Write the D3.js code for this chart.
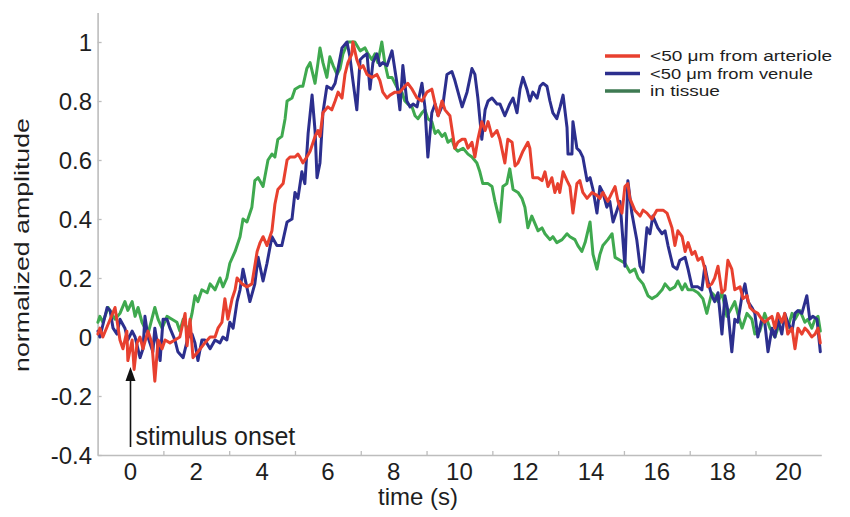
<!DOCTYPE html>
<html>
<head>
<meta charset="utf-8">
<script src="https://cdn.jsdelivr.net/npm/d3@7"></script>
<style>
  html, body { margin: 0; padding: 0; background: #fff; }
  svg { display: block; font-family: "Liberation Sans", Arial, sans-serif; }
</style>
</head>
<body>
<svg id="chart" width="850" height="517"></svg>
<script>
// Normalized response amplitude vs. time, three recording locations: [time (s), amplitude]
const arteriole = [
  [-0.99,0.01],[-0.93,0.03],[-0.84,0.00],[-0.47,0.10],[-0.32,-0.01],[-0.23,-0.04],[-0.11,0.02],[-0.08,-0.08],
  [0.05,-0.01],[0.11,-0.11],[0.20,-0.02],[0.29,0.00],[0.38,-0.04],[0.53,0.02],[0.65,-0.02],[0.74,-0.15],
  [0.84,-0.01],[0.96,-0.04],[1.05,-0.01],[1.20,-0.02],[1.35,-0.01],[1.50,0.00],[1.66,0.08],[1.72,-0.03],
  [1.81,0.06],[1.90,-0.07],[2.05,-0.05],[2.26,-0.02],[2.42,0.00],[2.57,0.00],[2.66,0.03],[2.78,0.05],
  [2.87,0.13],[2.96,0.06],[3.09,0.13],[3.18,0.16],[3.24,0.20],[3.39,0.18],[3.54,0.17],[3.69,0.18],
  [3.85,0.29],[3.94,0.32],[4.03,0.34],[4.15,0.31],[4.30,0.36],[4.39,0.45],[4.48,0.50],[4.64,0.52],
  [4.76,0.60],[4.85,0.61],[5.00,0.61],[5.09,0.62],[5.15,0.61],[5.24,0.59],[5.36,0.61],[5.46,0.63],
  [5.61,0.68],[5.70,0.70],[5.76,0.68],[5.85,0.76],[6.00,0.78],[6.12,0.77],[6.22,0.80],[6.31,0.83],
  [6.43,0.81],[6.52,0.89],[6.61,0.93],[6.73,0.96],[6.76,1.00],[6.88,0.94],[6.98,0.91],[7.07,0.92],
  [7.19,0.89],[7.34,0.88],[7.49,0.89],[7.58,0.87],[7.67,0.83],[7.80,0.81],[7.89,0.82],[8.04,0.83],
  [8.19,0.83],[8.34,0.85],[8.43,0.86],[8.56,0.84],[8.71,0.81],[8.86,0.80],[9.01,0.83],[9.16,0.84],
  [9.26,0.79],[9.35,0.75],[9.47,0.80],[9.56,0.77],[9.71,0.75],[9.86,0.64],[9.95,0.66],[10.08,0.67],
  [10.17,0.67],[10.26,0.64],[10.38,0.66],[10.47,0.61],[10.56,0.67],[10.68,0.73],[10.78,0.70],[10.87,0.73],
  [10.99,0.68],[11.14,0.70],[11.23,0.67],[11.38,0.59],[11.47,0.67],[11.60,0.66],[11.69,0.58],[11.78,0.59],
  [11.93,0.63],[12.08,0.66],[12.14,0.64],[12.23,0.54],[12.39,0.54],[12.51,0.53],[12.60,0.56],[12.69,0.51],
  [12.81,0.54],[12.90,0.49],[12.99,0.52],[13.05,0.49],[13.15,0.56],[13.27,0.53],[13.36,0.51],[13.45,0.42],
  [13.57,0.52],[13.66,0.53],[13.75,0.49],[13.88,0.47],[14.03,0.49],[14.18,0.48],[14.27,0.47],[14.36,0.49],
  [14.51,0.46],[14.64,0.49],[14.73,0.51],[14.82,0.46],[14.94,0.42],[15.03,0.51],[15.12,0.52],[15.18,0.47],
  [15.33,0.43],[15.49,0.41],[15.58,0.43],[15.70,0.42],[15.85,0.40],[16.00,0.43],[16.19,0.43],[16.31,0.42],
  [16.46,0.37],[16.55,0.31],[16.64,0.36],[16.77,0.34],[16.86,0.29],[16.95,0.32],[17.07,0.28],[17.16,0.29],
  [17.25,0.26],[17.37,0.27],[17.46,0.23],[17.55,0.17],[17.67,0.18],[17.76,0.20],[17.86,0.24],[17.98,0.15],
  [18.07,0.16],[18.16,0.26],[18.28,0.23],[18.37,0.16],[18.53,0.17],[18.62,0.13],[18.74,0.14],[18.83,0.10],
  [18.92,0.09],[19.07,0.08],[19.19,0.06],[19.28,0.05],[19.38,0.06],[19.50,0.07],[19.59,0.03],[19.68,0.08],
  [19.80,0.05],[19.89,0.08],[19.98,0.01],[20.11,0.03],[20.20,-0.04],[20.29,0.03],[20.41,0.01],[20.50,0.03],
  [20.59,0.02],[20.71,0.00],[20.81,0.01],[20.90,0.03],[20.97,-0.02]
];

const venule = [
  [-0.99,0.02],[-0.93,0.00],[-0.71,0.10],[-0.62,0.09],[-0.53,0.03],[-0.41,0.01],[-0.32,0.06],[-0.17,0.03],
  [-0.08,-0.01],[0.05,0.02],[0.14,0.00],[0.29,-0.07],[0.38,-0.04],[0.44,0.07],[0.53,0.00],[0.68,-0.05],
  [0.74,0.03],[0.90,-0.08],[0.99,0.06],[1.11,0.06],[1.20,0.03],[1.35,-0.01],[1.44,-0.05],[1.60,-0.07],
  [1.75,0.00],[1.87,0.01],[1.96,-0.02],[2.05,-0.08],[2.17,-0.01],[2.26,-0.01],[2.42,-0.04],[2.57,-0.01],
  [2.72,-0.02],[2.81,0.00],[2.93,-0.01],[3.02,0.05],[3.12,0.03],[3.24,0.12],[3.33,0.16],[3.42,0.23],
  [3.63,0.12],[3.78,0.18],[3.88,0.27],[4.03,0.19],[4.15,0.25],[4.30,0.34],[4.45,0.31],[4.60,0.31],
  [4.76,0.39],[4.91,0.40],[5.00,0.49],[5.09,0.47],[5.21,0.56],[5.30,0.52],[5.40,0.69],[5.52,0.82],
  [5.61,0.70],[5.67,0.54],[5.76,0.59],[5.85,0.76],[5.97,0.85],[6.12,0.84],[6.22,0.86],[6.31,0.91],
  [6.43,0.98],[6.58,1.00],[6.67,0.95],[6.76,0.87],[6.88,0.77],[6.98,0.94],[7.07,0.95],[7.19,0.96],
  [7.28,0.84],[7.37,0.93],[7.49,0.96],[7.58,0.92],[7.67,0.93],[7.80,0.92],[7.95,0.97],[8.10,0.86],
  [8.19,0.77],[8.28,0.92],[8.40,0.80],[8.50,0.78],[8.59,0.79],[8.71,0.78],[8.86,0.86],[8.95,0.78],
  [9.04,0.61],[9.16,0.76],[9.26,0.79],[9.35,0.75],[9.50,0.79],[9.62,0.89],[9.77,0.90],[9.86,0.87],
  [10.08,0.78],[10.23,0.83],[10.38,0.91],[10.47,0.89],[10.56,0.81],[10.68,0.67],[10.78,0.77],[10.87,0.80],
  [10.99,0.81],[11.14,0.79],[11.23,0.79],[11.38,0.75],[11.53,0.79],[11.63,0.81],[11.75,0.76],[11.84,0.84],
  [11.93,0.88],[12.05,0.84],[12.14,0.80],[12.23,0.83],[12.36,0.81],[12.45,0.85],[12.54,0.86],[12.66,0.85],
  [12.75,0.80],[12.84,0.76],[12.96,0.74],[13.06,0.78],[13.15,0.82],[13.27,0.71],[13.30,0.62],[13.42,0.62],
  [13.45,0.73],[13.57,0.64],[13.66,0.63],[13.75,0.61],[13.88,0.53],[13.97,0.54],[14.06,0.50],[14.18,0.42],
  [14.27,0.51],[14.36,0.49],[14.48,0.44],[14.57,0.46],[14.67,0.39],[14.79,0.43],[14.88,0.46],[15.03,0.24],
  [15.12,0.53],[15.24,0.42],[15.39,0.33],[15.49,0.24],[15.58,0.22],[15.70,0.37],[15.79,0.35],[15.88,0.41],
  [16.03,0.37],[16.16,0.35],[16.25,0.36],[16.34,0.31],[16.49,0.24],[16.61,0.23],[16.70,0.26],[16.86,0.27],
  [16.95,0.23],[17.07,0.17],[17.25,0.17],[17.37,0.16],[17.46,0.24],[17.55,0.19],[17.67,0.14],[17.76,0.12],
  [17.86,0.15],[17.98,0.01],[18.07,0.14],[18.16,0.09],[18.28,-0.05],[18.37,0.06],[18.46,0.05],[18.59,0.14],
  [18.68,0.18],[18.77,0.12],[18.89,0.10],[18.98,0.08],[19.07,0.00],[19.19,0.06],[19.28,0.05],[19.38,-0.05],
  [19.50,0.03],[19.59,0.00],[19.68,0.06],[19.80,0.01],[19.89,0.08],[19.98,0.05],[20.11,0.02],[20.20,0.08],
  [20.29,0.09],[20.41,0.08],[20.56,0.14],[20.65,0.06],[20.74,0.07],[20.87,0.06],[20.97,-0.05]
];

const tissue = [
  [-0.99,0.05],[-0.93,0.07],[-0.84,0.05],[-0.68,0.10],[-0.47,0.06],[-0.32,0.08],[-0.17,0.12],[-0.08,0.09],
  [0.05,0.12],[0.14,0.07],[0.23,0.10],[0.35,0.05],[0.53,0.01],[0.74,0.10],[0.84,0.06],[0.96,0.03],
  [1.11,0.07],[1.26,0.06],[1.41,0.05],[1.50,0.02],[1.60,0.06],[1.75,0.02],[1.87,0.08],[1.96,0.14],
  [2.05,0.12],[2.17,0.16],[2.33,0.15],[2.42,0.18],[2.57,0.16],[2.72,0.20],[2.81,0.17],[2.93,0.20],
  [3.02,0.25],[3.18,0.29],[3.33,0.34],[3.42,0.40],[3.54,0.39],[3.69,0.44],[3.78,0.53],[3.88,0.54],
  [4.03,0.51],[4.18,0.60],[4.30,0.62],[4.39,0.61],[4.48,0.67],[4.60,0.68],[4.70,0.74],[4.76,0.80],
  [4.91,0.81],[5.00,0.84],[5.15,0.85],[5.24,0.85],[5.36,0.91],[5.46,0.93],[5.61,0.86],[5.70,0.93],
  [5.76,0.98],[5.85,0.93],[5.97,0.88],[6.06,0.95],[6.16,0.92],[6.28,0.89],[6.37,0.91],[6.46,0.96],
  [6.61,1.00],[6.82,1.00],[6.98,0.97],[7.13,0.98],[7.22,0.96],[7.34,0.94],[7.43,0.96],[7.52,0.93],
  [7.64,1.00],[7.73,0.93],[7.83,0.88],[7.95,0.88],[8.04,0.86],[8.13,0.84],[8.25,0.83],[8.34,0.80],
  [8.43,0.79],[8.56,0.78],[8.65,0.75],[8.74,0.74],[8.86,0.76],[8.95,0.77],[9.04,0.74],[9.16,0.73],
  [9.26,0.69],[9.35,0.70],[9.47,0.68],[9.56,0.69],[9.65,0.66],[9.77,0.67],[9.86,0.64],[9.95,0.63],
  [10.11,0.64],[10.26,0.62],[10.38,0.61],[10.53,0.59],[10.62,0.56],[10.71,0.52],[10.87,0.52],[10.99,0.51],
  [11.08,0.46],[11.23,0.39],[11.32,0.51],[11.44,0.52],[11.53,0.57],[11.63,0.50],[11.78,0.49],[11.90,0.47],
  [11.99,0.44],[12.08,0.37],[12.20,0.41],[12.39,0.36],[12.51,0.37],[12.60,0.35],[12.75,0.33],[12.84,0.34],
  [12.96,0.32],[13.12,0.33],[13.27,0.35],[13.36,0.34],[13.51,0.33],[13.60,0.31],[13.72,0.29],[13.82,0.32],
  [13.97,0.39],[14.06,0.28],[14.18,0.23],[14.27,0.28],[14.36,0.31],[14.51,0.33],[14.64,0.35],[14.73,0.27],
  [14.88,0.26],[15.03,0.25],[15.18,0.22],[15.33,0.23],[15.43,0.20],[15.58,0.18],[15.73,0.14],[15.85,0.13],
  [16.00,0.14],[16.16,0.16],[16.25,0.18],[16.40,0.16],[16.55,0.17],[16.64,0.19],[16.77,0.16],[16.86,0.18],
  [16.95,0.16],[17.10,0.16],[17.25,0.15],[17.40,0.13],[17.52,0.08],[17.67,0.15],[17.76,0.14],[17.86,0.12],
  [17.98,0.15],[18.13,0.07],[18.28,0.10],[18.37,0.12],[18.46,0.08],[18.59,0.03],[18.74,0.08],[18.89,0.06],
  [18.98,0.01],[19.13,0.02],[19.28,0.08],[19.44,0.03],[19.59,0.00],[19.74,0.05],[19.89,0.06],[19.98,0.03],
  [20.11,0.08],[20.20,0.06],[20.35,0.09],[20.50,0.05],[20.59,0.06],[20.71,0.03],[20.81,0.06],[20.90,0.07],
  [20.97,0.02]
];

const seriesNames = ["<50 \u03bcm from arteriole", "<50 \u03bcm from venule", "in tissue"];
const xTickValues = [0, 2, 4, 6, 8, 10, 12, 14, 16, 18, 20];
const xMinorTicks = [1, 3, 5, 7, 9, 11, 13, 15, 17, 19];
const yTickValues = [-0.4, -0.2, 0, 0.2, 0.4, 0.6, 0.8, 1];
const onsetTime = 0;

const lineColors = ["#e8402f", "#2c2f8e", "#3fa94f"];
const legendColors = ["#e8402f", "#2c2f8e", "#3e7a52"];
const axisColor = "#bdbdbd";
const textColor = "#1e1e1e";

const svg = d3.select("#chart");
const plot = { left: 97.6, right: 821.3, top: 12.5, bottom: 455 };

const x = d3.scaleLinear().domain([-1, 21]).range([plot.left, plot.right]);
const y = d3.scaleLinear().domain([-0.4, 1.1]).range([plot.bottom, plot.top]);

// axes: light gray spines with inward ticks
const xAxisG = svg.append("g")
  .attr("transform", `translate(0,${plot.bottom})`)
  .call(d3.axisBottom(x).tickValues(xMinorTicks).tickSizeInner(-4).tickSizeOuter(0).tickFormat(""));
const yAxisG = svg.append("g")
  .attr("transform", `translate(${plot.left},0)`)
  .call(d3.axisLeft(y).tickValues(yTickValues).tickSizeInner(-4).tickSizeOuter(0).tickFormat(""));
[xAxisG, yAxisG].forEach(g => {
  g.select(".domain").attr("stroke", axisColor).attr("stroke-width", 1.6);
  g.selectAll(".tick line").attr("stroke", axisColor).attr("stroke-width", 1.3);
});

// tick labels (plain hyphen for negatives)
svg.append("g").selectAll("text")
  .data(xTickValues).join("text")
  .attr("x", d => x(d)).attr("y", 480)
  .attr("text-anchor", "middle")
  .attr("font-size", 24).attr("fill", textColor)
  .text(d => String(d));

svg.append("g").selectAll("text")
  .data(yTickValues).join("text")
  .attr("x", 92).attr("y", d => y(d)).attr("dy", "0.36em")
  .attr("text-anchor", "end")
  .attr("font-size", 24).attr("fill", textColor)
  .text(d => String(Math.round(d * 10) / 10));

// axis titles
svg.append("text")
  .attr("x", 418).attr("y", 505)
  .attr("text-anchor", "middle")
  .attr("font-size", 24).attr("fill", textColor)
  .text("time (s)");

svg.append("text")
  .attr("transform", "translate(29,245) rotate(-90) scale(1.37,1)")
  .attr("text-anchor", "middle")
  .attr("font-size", 19.5).attr("fill", textColor)
  .text("normalized amplitude");

// traces
const line = d3.line().x(d => x(d[0])).y(d => y(d[1]));
const traces = [tissue, venule, arteriole];
const traceColors = [lineColors[2], lineColors[1], lineColors[0]];
svg.append("g").selectAll("path")
  .data(traces).join("path")
  .attr("d", line)
  .attr("fill", "none")
  .attr("stroke", (d, i) => traceColors[i])
  .attr("stroke-width", 3)
  .attr("stroke-linejoin", "round")
  .attr("stroke-linecap", "round");

// stimulus onset arrow
const arrowX = x(onsetTime);
svg.append("line")
  .attr("x1", arrowX).attr("x2", arrowX)
  .attr("y1", 447).attr("y2", 376)
  .attr("stroke", "#111").attr("stroke-width", 1.6);
svg.append("path")
  .attr("d", d3.line()([[arrowX, 367], [arrowX - 5, 381], [arrowX + 5, 381]]) + "Z")
  .attr("fill", "#111");
svg.append("text")
  .attr("x", arrowX + 5).attr("y", 445)
  .attr("font-size", 25).attr("fill", textColor)
  .text("stimulus onset");

// legend
const legendWidths = [182, 163, 70];
const legend = svg.append("g");
seriesNames.forEach((name, i) => {
  const ly = 56 + i * 17.5;
  legend.append("line")
    .attr("x1", 605).attr("x2", 640).attr("y1", ly).attr("y2", ly)
    .attr("stroke", legendColors[i]).attr("stroke-width", 3.5);
  legend.append("text")
    .attr("x", 650).attr("y", ly).attr("dy", "0.35em")
    .attr("font-size", 15.5).attr("fill", textColor)
    .attr("textLength", legendWidths[i]).attr("lengthAdjust", "spacingAndGlyphs")
    .text(name);
});
</script>
</body>
</html>
